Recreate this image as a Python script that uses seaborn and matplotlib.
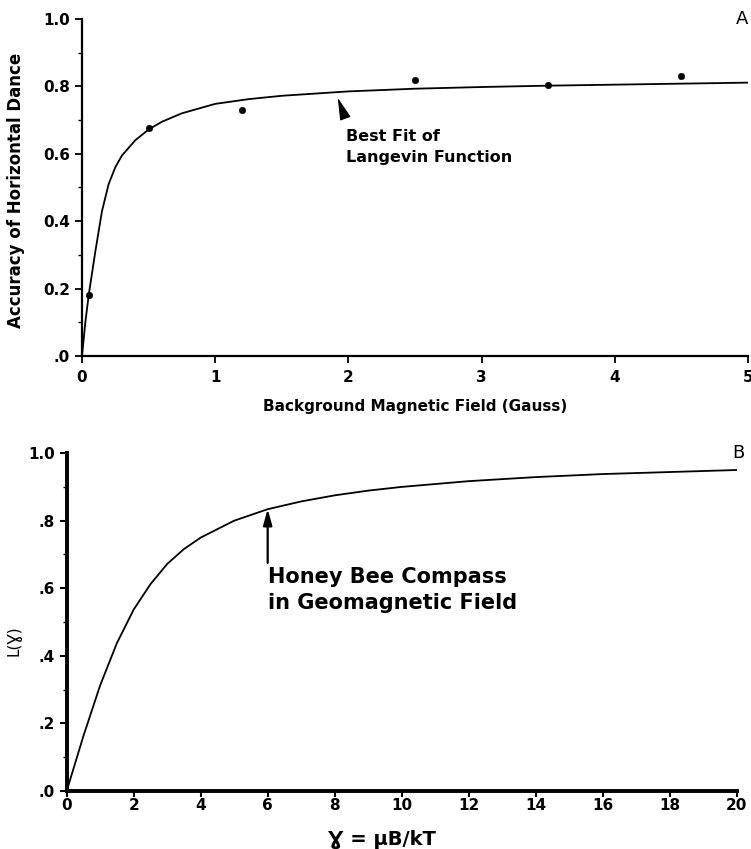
import matplotlib
matplotlib.use("Agg")
import matplotlib.pyplot as plt
import seaborn as sns
import pandas as pd
from matplotlib.ticker import MultipleLocator

# ---- Panel A data ----
field_pts = [0.05, 0.5, 1.2, 2.5, 3.5, 4.5]
accuracy_pts = [0.18, 0.675, 0.73, 0.82, 0.803, 0.832]
fit_x = [0.0, 0.025, 0.05, 0.1, 0.15, 0.2, 0.25, 0.3, 0.4, 0.5, 0.6, 0.75, 1.0, 1.25, 1.5, 2.0, 2.5, 3.0, 3.5, 4.0, 4.5, 5.0]
fit_y = [0.0, 0.10, 0.18, 0.31, 0.43, 0.51, 0.56, 0.595, 0.64, 0.672, 0.695, 0.72, 0.748, 0.762, 0.772, 0.785, 0.793, 0.798, 0.802, 0.805, 0.808, 0.811]
yticks_a = [0.0, 0.2, 0.4, 0.6, 0.8, 1.0]
ylabels_a = [".0", "0.2", "0.4", "0.6", "0.8", "1.0"]
xticks_a = [0, 1, 2, 3, 4, 5]

# ---- Panel B data ----
gamma = [0, 0.5, 1, 1.5, 2, 2.5, 3, 3.5, 4, 5, 6, 7, 8, 9, 10, 12, 14, 16, 18, 20]
L_gamma = [0.0, 0.163, 0.313, 0.438, 0.537, 0.612, 0.672, 0.716, 0.750, 0.800, 0.834, 0.857, 0.875, 0.889, 0.900, 0.917, 0.929, 0.938, 0.944, 0.950]
yticks_b = [0.0, 0.2, 0.4, 0.6, 0.8, 1.0]
ylabels_b = [".0", ".2", ".4", ".6", ".8", "1.0"]
xticks_b = [0, 2, 4, 6, 8, 10, 12, 14, 16, 18, 20]

sns.set_theme(style="ticks")
plt.rcParams['font.family'] = ['DejaVu Sans']
plt.rcParams['text.color'] = 'black'
plt.rcParams['axes.labelcolor'] = 'black'
plt.rcParams['xtick.color'] = 'black'
plt.rcParams['ytick.color'] = 'black'

fig = plt.figure(figsize=(7.51, 8.49), dpi=100)
axA = fig.add_axes([0.1092, 0.5807, 0.8868, 0.397])
axB = fig.add_axes([0.0888, 0.0683, 0.8921, 0.398])

# Panel A
dfA_fit = pd.DataFrame({"x": fit_x, "y": fit_y})
dfA_pts = pd.DataFrame({"x": field_pts, "y": accuracy_pts})
sns.lineplot(data=dfA_fit, x="x", y="y", ax=axA, color="black", lw=1.3)
sns.scatterplot(data=dfA_pts, x="x", y="y", ax=axA, color="black", s=22, edgecolor="black", zorder=3)
axA.set_xlim(0, 5)
axA.set_ylim(0, 1.0)
axA.set_xticks(xticks_a)
axA.set_xticklabels([str(t) for t in xticks_a], fontsize=11, fontweight="bold")
axA.set_yticks(yticks_a)
axA.set_yticklabels(ylabels_a, fontsize=11, fontweight="bold")
axA.yaxis.set_minor_locator(MultipleLocator(0.1))
axA.tick_params(axis="both", which="major", direction="out", length=5, width=1.3, color="black", labelcolor="black")
axA.tick_params(axis="x", which="major", pad=5)
axA.tick_params(axis="y", which="minor", direction="out", length=3, width=1.0, color="black")
axA.set_xlabel("Background Magnetic Field (Gauss)", fontsize=11, fontweight="bold", labelpad=10, color="black")
axA.set_ylabel("Accuracy of Horizontal Dance", fontsize=12, fontweight="bold", color="black")
axA.yaxis.set_label_coords(-0.0856, 0.49)
for s in ["top", "right"]:
    axA.spines[s].set_visible(False)
for s in ["left", "bottom"]:
    axA.spines[s].set_linewidth(1.6)
    axA.spines[s].set_color("black")
axA.text(5.0, 1.0, "A", fontsize=13, ha="right", va="center", color="black")
axA.annotate("", xy=(1.92, 0.766), xytext=(1.973, 0.709),
             arrowprops=dict(arrowstyle="-|>,head_length=1.4,head_width=0.35", color="black",
                             lw=0.8, shrinkA=0, shrinkB=0, mutation_scale=10))
axA.text(1.98, 0.62, "Best Fit of\nLangevin Function", fontsize=11.5, fontweight="bold",
         ha="left", va="center", linespacing=1.5, color="black")

# Panel B
dfB = pd.DataFrame({"g": gamma, "L": L_gamma})
sns.lineplot(data=dfB, x="g", y="L", ax=axB, color="black", lw=1.3)
axB.set_xlim(0, 20)
axB.set_ylim(0, 1.0)
axB.set_xticks(xticks_b)
axB.set_xticklabels([str(t) for t in xticks_b], fontsize=11, fontweight="bold")
axB.set_yticks(yticks_b)
axB.set_yticklabels(ylabels_b, fontsize=11, fontweight="bold")
axB.yaxis.set_minor_locator(MultipleLocator(0.1))
axB.tick_params(axis="both", which="major", direction="out", length=5, width=1.5, color="black", labelcolor="black")
axB.tick_params(axis="x", which="major", length=4, pad=1)
axB.tick_params(axis="y", which="minor", direction="out", length=3, width=1.0, color="black")
axB.set_xlabel("Ɣ = μB/kT", fontsize=14, fontweight="bold", color="black")
axB.xaxis.set_label_coords(0.47, -0.115)
axB.set_ylabel("L(Ɣ)", fontsize=11, color="black")
axB.yaxis.set_label_coords(-0.068, 0.444)
for s in ["top", "right"]:
    axB.spines[s].set_visible(False)
for s in ["left", "bottom"]:
    axB.spines[s].set_linewidth(2.8)
    axB.spines[s].set_color("black")
axB.text(20.05, 1.0, "B", fontsize=13, ha="center", va="center", color="black")
axB.annotate("", xy=(6.0, 0.835), xytext=(6.0, 0.675),
             arrowprops=dict(arrowstyle="-|>,head_length=0.8,head_width=0.22", color="black", lw=1.6,
                             shrinkA=0, shrinkB=0))
axB.text(6.0, 0.595, "Honey Bee Compass\nin Geomagnetic Field", fontsize=15, fontweight="bold",
         ha="left", va="center", linespacing=1.35, color="black")

fig.savefig("out.png", dpi=100)
